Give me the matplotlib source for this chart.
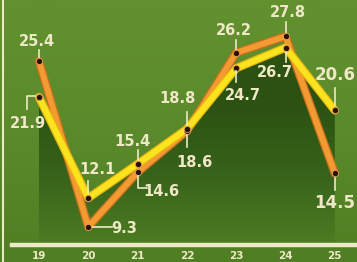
import numpy as np
import matplotlib.pyplot as plt
from matplotlib.colors import LinearSegmentedColormap

# data
years = [19, 20, 21, 22, 23, 24, 25]
orange_vals = [25.4, 9.3, 14.6, 18.6, 26.2, 27.8, 14.5]
yellow_vals = [21.9, 12.1, 15.4, 18.8, 24.7, 26.7, 20.6]
tick_labels = ["19", "20", "21", "22", "23", "24", "25"]

# label offsets in pixels (dx, dy) from the point
orange_offsets = [(-2, 19), (36, -2), (24, -19), (8, -31), (-2, 22), (2, 24), (0, -30)]
yellow_offsets = [(-11, -26), (9, 29), (-5, 23), (-9, 30), (7, -27), (-11, -25), (0, 35)]
# leader polylines in pixel offsets from the point
orange_leaders = [[(0, 4), (0, 11)], [(5, 0), (24, 0)], [(0, -4), (0, -16), (9, -16)],
                  [(0, -4), (0, -16)], [(0, 4), (0, 13)], [(0, 4), (0, 14)], [(0, -5), (0, -17)]]
yellow_leaders = [[(-4, 1), (-12, 1), (-12, -12)], [(0, 5), (0, 17)], [(0, 4), (0, 14)],
                  [(0, 4), (0, 17)], [(0, -3), (0, -14)], [(0, -4), (0, -14)], [(0, 5), (0, 22)]]

cream = "#efe8c6"
plt.rcParams['font.family'] = ['Liberation Sans Narrow', 'DejaVu Sans']

fig = plt.figure(figsize=(3.57, 2.62), dpi=100)
ax = fig.add_axes([0, 0, 1, 1])
x0, x1 = 18.21, 25.45
y0, y1 = 5.89, 31.32
ax.set_xlim(x0, x1)
ax.set_ylim(y0, y1)
ax.axis("off")

# background gradient
bg = LinearSegmentedColormap.from_list("bg", ["#4f7f22", "#5a8a2b", "#63912f"])
grad = np.linspace(0, 1, 256).reshape(-1, 1)
ax.imshow(grad, cmap=bg, extent=[x0, x1, y0, y1], origin="lower", aspect="auto", zorder=0)

# dark fill under the yellow line
base = 7.55
poly = ax.fill_between(years, yellow_vals, base, color="none", zorder=1)
dark = LinearSegmentedColormap.from_list("dk", ["#4c7c22", "#38631a", "#2c5212", "#2c5212"])
img = ax.imshow(grad, cmap=dark, extent=[19, 25, base, 28], origin="lower", aspect="auto", zorder=1)
img.set_clip_path(poly.get_paths()[0], transform=ax.transData)

# frame lines
ax.axhline(base, xmin=(18.45 - x0) / (x1 - x0), color=cream, lw=3.2, zorder=2)
ax.axvline(18.27, color=cream, lw=1.5, zorder=2)

# lines
ax.plot(years, orange_vals, color="#c8701e", lw=6, solid_capstyle="round", zorder=3)
ax.plot(years, orange_vals, color="#f39a32", lw=4.2, solid_capstyle="round", zorder=3)
ax.plot(years, yellow_vals, color="#e8b814", lw=6, solid_capstyle="round", zorder=4)
ax.plot(years, yellow_vals, color="#fbe31e", lw=4.2, solid_capstyle="round", zorder=4)
ax.plot(years, orange_vals, "o", ms=4.5, color="#2a1206", mec="#d9a060", mew=0.6, zorder=5)
ax.plot(years, yellow_vals, "o", ms=4.5, color="#2a1206", mec="#d9a060", mew=0.6, zorder=5)


def label(x, y, val, off, leader, size):
    ax.annotate(f"{val}", (x, y), xytext=off, textcoords="offset pixels",
                ha="center", va="center", color=cream, fontsize=size,
                fontweight="bold", zorder=6)
    trans = ax.transData
    px, py = trans.transform((x, y))
    pts = [trans.inverted().transform((px + a, py + b)) for a, b in leader]
    ax.plot([p[0] for p in pts], [p[1] for p in pts], color=cream, lw=1.2, zorder=6)


for i, yr in enumerate(years):
    size = 12 if i == len(years) - 1 else 10.5
    label(yr, orange_vals[i], orange_vals[i], orange_offsets[i], orange_leaders[i], size)
    label(yr, yellow_vals[i], yellow_vals[i], yellow_offsets[i], yellow_leaders[i], size)

for yr, t in zip(years, tick_labels):
    ax.annotate(t, (yr, base), xytext=(0, -11), textcoords="offset pixels",
                ha="center", va="center", color=cream, fontsize=7.5, fontweight="bold")

fig.savefig("out.png", dpi=100)
